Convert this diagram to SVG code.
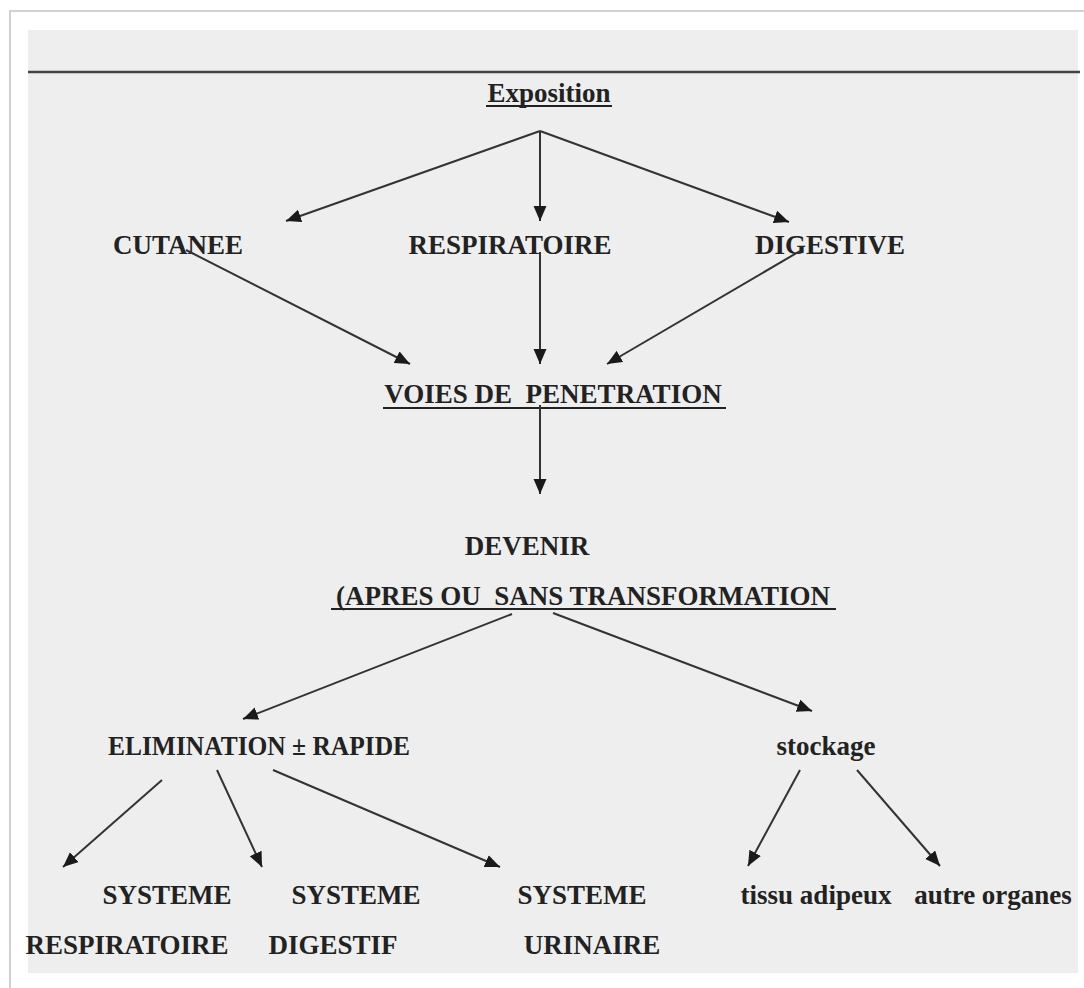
<svg xmlns="http://www.w3.org/2000/svg" width="1084" height="988" viewBox="0 0 1084 988">
<defs>
<marker id="ah" markerUnits="userSpaceOnUse" markerWidth="18" markerHeight="14" refX="15" refY="6.5" orient="auto">
<path d="M0,0 L15,6.5 L0,13 Z" fill="#1a1a1a"/>
</marker>
<style>
.t{font-family:"Liberation Serif","Times New Roman",serif;font-weight:bold;font-size:27px;fill:#222}
.u{stroke:#222;stroke-width:2}
.c line{stroke:#333;stroke-width:2;marker-end:url(#ah)}
</style>
</defs>
<rect x="0" y="0" width="1084" height="988" fill="#ffffff"/>
<path d="M10,988 L10,11 L1084,11" fill="none" stroke="#d0d0d0" stroke-width="2"/>
<rect x="28" y="30" width="1050" height="943" fill="#eeeeee"/>
<line x1="28" y1="72" x2="1080" y2="72" stroke="#444" stroke-width="2.5"/>

<g id="exposition"><text class="t" x="549" y="102" text-anchor="middle">Exposition</text><line class="u" x1="486" y1="106" x2="612" y2="106"/></g>
<g id="cutanee"><text class="t" x="178" y="254" text-anchor="middle">CUTANEE</text></g>
<g id="respiratoire"><text class="t" x="510" y="254" text-anchor="middle">RESPIRATOIRE</text></g>
<g id="digestive"><text class="t" x="830" y="254" text-anchor="middle">DIGESTIVE</text></g>
<g id="voies"><text class="t" x="553" y="403" text-anchor="middle" xml:space="preserve">VOIES DE  PENETRATION</text><line class="u" x1="383" y1="408" x2="726" y2="408"/></g>
<g id="devenir"><text class="t" x="527" y="555" text-anchor="middle">DEVENIR</text></g>
<g id="apres"><text class="t" x="583" y="605" text-anchor="middle" xml:space="preserve">(APRES OU  SANS TRANSFORMATION</text><line class="u" x1="331" y1="609" x2="836" y2="609"/></g>
<g id="elimination"><text class="t" x="108" y="755" textLength="302" lengthAdjust="spacingAndGlyphs">ELIMINATION ± RAPIDE</text></g>
<g id="stockage"><text class="t" x="826" y="755" text-anchor="middle">stockage</text></g>
<g id="sys-resp"><text class="t" x="167" y="904" text-anchor="middle">SYSTEME</text><text class="t" x="127" y="954" text-anchor="middle">RESPIRATOIRE</text></g>
<g id="sys-dig"><text class="t" x="356" y="904" text-anchor="middle">SYSTEME</text><text class="t" x="333" y="954" text-anchor="middle">DIGESTIF</text></g>
<g id="sys-uri"><text class="t" x="582" y="904" text-anchor="middle">SYSTEME</text><text class="t" x="592" y="954" text-anchor="middle">URINAIRE</text></g>
<g id="tissu"><text class="t" x="816" y="904" text-anchor="middle">tissu adipeux</text></g>
<g id="autre"><text class="t" x="993" y="904" text-anchor="middle">autre organes</text></g>

<g id="connectors" class="c">
<line x1="540" y1="131" x2="286" y2="221"/>
<line x1="540" y1="131" x2="540" y2="221"/>
<line x1="540" y1="131" x2="789" y2="222"/>
<line x1="186" y1="250" x2="410" y2="364"/>
<line x1="540" y1="252" x2="540" y2="364"/>
<line x1="800" y1="251" x2="607" y2="364"/>
<line x1="540" y1="405" x2="540" y2="494"/>
<line x1="512" y1="614" x2="243" y2="719"/>
<line x1="553" y1="613" x2="812" y2="711"/>
<line x1="162" y1="780" x2="63" y2="867"/>
<line x1="217" y1="770" x2="262" y2="867"/>
<line x1="273" y1="770" x2="500" y2="867"/>
<line x1="800" y1="770" x2="748" y2="866"/>
<line x1="857" y1="770" x2="940" y2="866"/>
</g>
</svg>
